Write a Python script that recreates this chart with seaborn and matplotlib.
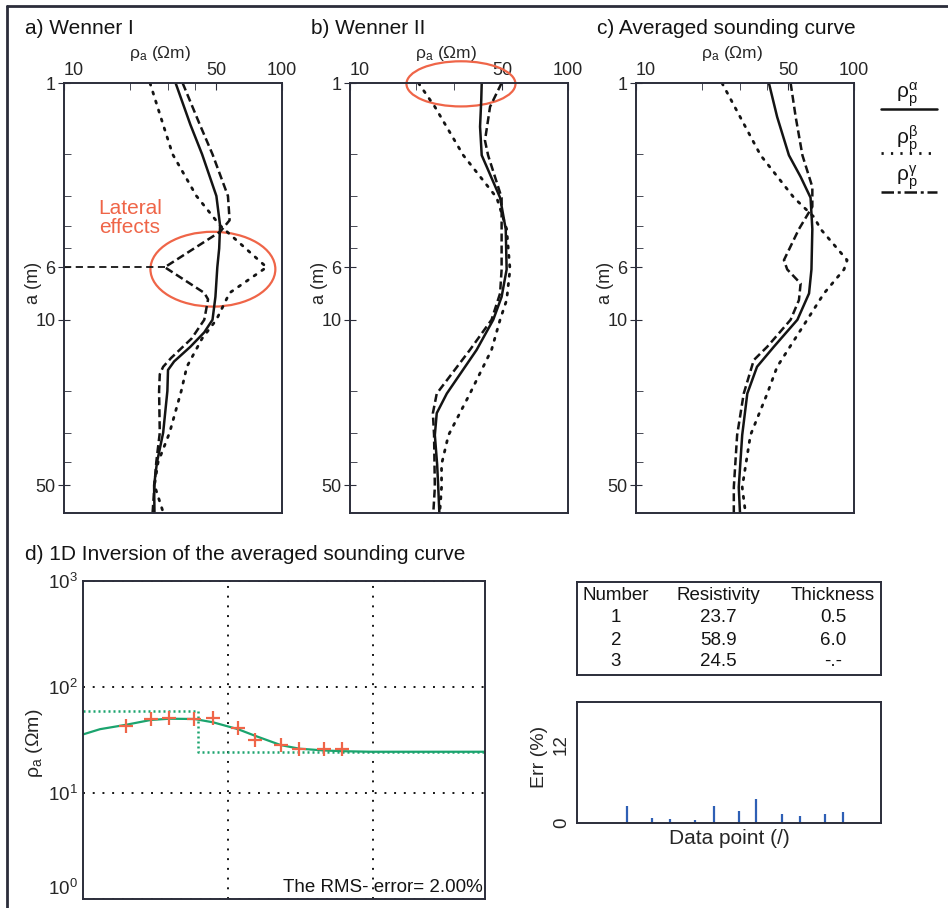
import seaborn as sns
import matplotlib.pyplot as plt
from matplotlib.patches import Ellipse
from matplotlib.lines import Line2D
from matplotlib.ticker import FixedLocator, NullFormatter, NullLocator

# electrode spacing a (m) and apparent resistivity (Ohm m)
# a) Wenner I
a_alpha_1 = [1, 1.5, 2, 3, 4, 5, 6, 8, 10, 11.3, 13, 15, 16.3, 20, 30, 40, 50, 65]
rho_alpha_1 = [32.5, 38, 43, 50, 52, 51.5, 50.5, 49.5, 48, 44, 38, 32, 30, 29.8, 28.5, 26.7, 25.9, 26]
a_beta_1 = [1, 1.5, 2, 3, 4, 6, 7.7, 10, 12, 15.8, 20, 30, 40, 50, 65]
rho_beta_1 = [24.8, 28.5, 31.5, 40.5, 52, 85, 57.5, 50, 43, 36.6, 34.5, 30.5, 27, 26, 28.5]
a_gamma_1 = [1, 1.5, 2, 3, 3.8, 4.25, 6, 7.7, 8.2, 10, 12, 14.5, 15.8, 17, 20, 30, 40, 50, 65]
rho_gamma_1 = [35, 42, 48, 56.5, 57.5, 52, 29, 44, 45.8, 44, 38.5, 31, 28.5, 27.5, 27.3, 27.5, 26.5, 26, 25.5]
lateral_rho = [10, 29]
lateral_a = [6, 6]

# b) Wenner II
a_alpha_2 = [1, 1.18, 1.53, 2.02, 2.26, 3.05, 4.14, 6.13, 8.0, 10, 13.4, 20.5, 24.8, 30.7, 40.8, 51, 65.6]
rho_alpha_2 = [40.2, 40, 39.5, 40.2, 42.4, 48.8, 51.8, 52.3, 49.6, 45.4, 38.1, 27.8, 25, 24.5, 25.1, 25.4, 25.7]
a_beta_2 = [1, 1.26, 2.02, 3.05, 4.14, 6.13, 8.26, 10, 13.4, 20.5, 30.7, 40.8, 51, 65.6]
rho_beta_2 = [20.6, 24.5, 33.1, 47.1, 52.3, 54.2, 52.3, 48.8, 44.6, 35.5, 28.3, 26.3, 26.3, 25.8]
a_gamma_2 = [1, 1.26, 1.75, 2.02, 3.05, 4.14, 6.13, 7.74, 10, 13.4, 20.5, 24.8, 30.7, 51, 65.6]
rho_gamma_2 = [49.6, 43.9, 41.6, 43, 49.6, 49.6, 49.6, 48.8, 44.6, 35.5, 25, 24, 24.3, 24.5, 24.1]

# c) averaged sounding curve
a_alpha_3 = [1, 1.39, 2.02, 2.49, 3.05, 4.14, 6.13, 7.74, 10, 13, 15.8, 20.5, 30.7, 51, 65.6]
rho_alpha_3 = [40.7, 44.4, 50.3, 56.9, 63.2, 64.4, 63.8, 62.2, 55, 42.9, 35.9, 32.4, 30.7, 29.6, 30]
a_beta_3 = [1, 2.02, 3.05, 3.68, 4.14, 5.6, 6.13, 7.74, 10, 15.8, 20.5, 30.7, 51, 65.6]
rho_beta_3 = [24.8, 37.3, 53, 65.5, 70.3, 93, 90, 72.8, 61, 44.4, 40, 33.5, 30.7, 31.8]
a_gamma_3 = [1, 1.39, 2.02, 2.75, 3.33, 4.14, 5.6, 6.13, 7.03, 8.26, 10, 13, 14.8, 20.5, 30.7, 51, 65.6]
rho_gamma_3 = [51.2, 54, 58, 64.4, 64.4, 55.9, 47.7, 49.4, 56.9, 55.9, 51.2, 40, 34.7, 31.2, 29.1, 28.1, 28.1]

# d) 1D inversion
obs_x = [0.198, 0.294, 0.394, 0.586, 0.784, 1.17, 1.54, 2.31, 3.09, 4.57, 6.08]
obs_rho = [42.6, 50.2, 51.5, 49.5, 50.8, 41.3, 31.4, 28.3, 26.2, 25.9, 26.0]
fit_x = [0.1, 0.131, 0.198, 0.294, 0.394, 0.586, 0.79, 1.17, 1.54, 2.31, 3.09, 4.57, 6.08, 9.64, 59]
fit_rho = [35.7, 40, 44, 48.9, 50.2, 49.9, 46.4, 40, 34.6, 28.3, 26.2, 25.2, 24.8, 24.5, 24.5]
model_x = [0.1, 0.62, 0.62, 59]
model_rho = [58.9, 58.9, 24.5, 24.5]
err_pct = [2.56, 0.72, 0.67, 0.51, 2.67, 1.85, 3.74, 1.44, 1.03, 1.33, 1.74]

layer_num = ['1', '2', '3']
layer_res = ['23.7', '58.9', '24.5']
layer_thk = ['0.5', '6.0', '-.-']

ink = '#141414'
frame = '#2b2d3a'
red = '#EF6548'
green = '#1BA46E'
blue = '#2E5FB5'

sns.set_style('white')
plt.rcParams['font.family'] = ['Liberation Sans', 'DejaVu Sans']
plt.rcParams['mathtext.fontset'] = 'custom'
plt.rcParams['mathtext.rm'] = 'Liberation Sans'
plt.rcParams['mathtext.it'] = 'Liberation Sans:italic'
plt.rcParams['axes.edgecolor'] = frame
plt.rcParams['axes.linewidth'] = 1.4

fig = plt.figure(figsize=(9.48, 9.08), dpi=100)
W, H = 948, 908


def px_axes(x0, y0, x1, y1):
    return fig.add_axes([x0 / W, 1 - y1 / H, (x1 - x0) / W, (y1 - y0) / H])


solid = dict(color=ink, lw=1.8, linestyle='-')
dotted = dict(color=ink, lw=2.0, linestyle=(0, (0.8, 2.6)), dash_capstyle='round')
dashed = dict(color=ink, lw=1.8, linestyle=(0, (3.2, 1.6)))

panels = [
    (64, 'a) Wenner I', (a_alpha_1, rho_alpha_1), (a_beta_1, rho_beta_1), (a_gamma_1, rho_gamma_1)),
    (350, 'b) Wenner II', (a_alpha_2, rho_alpha_2), (a_beta_2, rho_beta_2), (a_gamma_2, rho_gamma_2)),
    (636, 'c) Averaged sounding curve', (a_alpha_3, rho_alpha_3), (a_beta_3, rho_beta_3), (a_gamma_3, rho_gamma_3)),
]
sound_axes = []
for left, title, alpha, beta, gamma in panels:
    ax = px_axes(left, 83, left + 218, 513)
    for (a_vals, rho_vals), style in [(beta, dotted), (gamma, dashed), (alpha, solid)]:
        sns.lineplot(x=rho_vals, y=a_vals, orient='y', estimator=None, ax=ax, **style)
    ax.set_xscale('log')
    ax.set_yscale('log')
    ax.set_xlim(10, 100)
    ax.set_ylim(65.5, 1)
    ax.xaxis.set_major_locator(FixedLocator([10, 50, 100]))
    ax.xaxis.set_minor_locator(FixedLocator([20, 30, 40]))
    ax.set_xticklabels(['10', '50', '100'])
    ax.xaxis.set_minor_formatter(NullFormatter())
    ax.yaxis.set_major_locator(FixedLocator([1, 6, 10, 50]))
    ax.yaxis.set_minor_locator(FixedLocator([2, 3, 4, 5, 20, 30, 40]))
    ax.set_yticklabels(['1', '6', '10', '50'])
    ax.yaxis.set_minor_formatter(NullFormatter())
    ax.tick_params(axis='x', which='both', direction='in', top=True, bottom=False,
                   labeltop=True, labelbottom=False, labelsize=13, pad=3, color=frame)
    ax.tick_params(axis='x', which='major', length=5)
    ax.tick_params(axis='x', which='minor', length=5)
    ax.tick_params(axis='y', which='major', direction='inout', length=8, left=True,
                   labelsize=13, pad=2, color=frame)
    ax.tick_params(axis='y', which='minor', direction='in', length=5, left=True, color=frame)
    ax.get_xticklabels()[0].set_horizontalalignment('left')
    ax.xaxis.set_label_position('top')
    ax.set_xlabel('ρ$_\\mathrm{a}$ (Ωm)', fontsize=12.5, labelpad=5)
    ax.xaxis.set_label_coords(0.44, 1.058)
    ax.set_ylabel('a (m)', fontsize=13)
    ax.yaxis.set_label_coords(-0.10, 0.535)
    fig.text((left - 39) / W, 1 - 28 / H, title, fontsize=15, va='center', color=ink)
    sound_axes.append(ax)

# lateral effects in Wenner I
ax_a, ax_b, ax_c = sound_axes
sns.lineplot(x=lateral_rho, y=lateral_a, estimator=None, ax=ax_a, color=ink, lw=1.3,
             linestyle=(0, (4, 2.5)))
ax_a.add_patch(Ellipse((0.683, 0.567), 0.573, 0.174, transform=ax_a.transAxes,
                       fill=False, edgecolor=red, lw=1.6))
ax_a.text(0.303, 0.686, 'Lateral\neffects', transform=ax_a.transAxes, color=red,
          fontsize=15, ha='center', va='center', linespacing=1.0)
ax_b.add_patch(Ellipse((0.509, 0.998), 0.5, 0.105, transform=ax_b.transAxes,
                       fill=False, edgecolor=red, lw=1.6, clip_on=False))

# legend keys
legend_rows = [('α', 109, solid), ('β', 153, dotted), ('γ', 192, dashed)]
for sup, y, style in legend_rows:
    fig.text(907 / W, 1 - (y - 14) / H, 'ρ$_\\mathrm{p}^{\\mathrm{%s}}$' % sup, fontsize=15,
             ha='center', va='center', color=ink)
    ls = style['linestyle'] if sup != 'γ' else (0, (5, 1.5, 1.2, 1.5))
    fig.add_artist(Line2D([881 / W, 937 / W], [1 - y / H] * 2, color=ink,
                          lw=style['lw'], linestyle=ls, transform=fig.transFigure))

# d) inversion
ax_d = px_axes(83, 581, 485, 899)
sns.lineplot(x=model_x, y=model_rho, sort=False, estimator=None, ax=ax_d, color=green,
             lw=1.8, linestyle=(0, (0.8, 1.2)))
sns.lineplot(x=fit_x, y=fit_rho, estimator=None, ax=ax_d, color=green, lw=1.6)
sns.scatterplot(x=obs_x, y=obs_rho, ax=ax_d, marker='+', s=90, color=red, linewidth=1.6, zorder=5)
ax_d.set_xscale('log')
ax_d.set_yscale('log')
ax_d.set_xlim(0.1, 59)
ax_d.set_ylim(1, 1000)
ax_d.xaxis.set_major_locator(FixedLocator([1, 10]))
ax_d.xaxis.set_major_formatter(NullFormatter())
ax_d.xaxis.set_minor_locator(NullLocator())
ax_d.yaxis.set_major_locator(FixedLocator([1, 10, 100, 1000]))
ax_d.yaxis.set_minor_locator(NullLocator())
ax_d.grid(True, which='major', color=ink, linestyle=(0, (1, 4)), lw=1.4)
ax_d.tick_params(length=0, labelsize=13.5, pad=4)
ax_d.get_yticklabels()[0].set_verticalalignment('bottom')
ax_d.set_ylabel('ρ$_\\mathrm{a}$ (Ωm)', fontsize=14)
ax_d.yaxis.set_label_coords(-0.095, 0.49)
ax_d.text(0.995, 0.035, 'The RMS- error= 2.00%', transform=ax_d.transAxes, fontsize=13.5,
          ha='right', va='center', color=ink)
fig.text(25 / W, 1 - 555 / H, 'd) 1D Inversion of the averaged sounding curve', fontsize=15,
         va='center', color=ink)

# model table
ax_t = px_axes(577, 582, 881, 675)
ax_t.set_xticks([])
ax_t.set_yticks([])
col_x = [0.128, 0.464, 0.842]
row_y = [0.85, 0.613, 0.376, 0.14]
for cx, head in zip(col_x, ['Number', 'Resistivity', 'Thickness']):
    ax_t.text(cx, row_y[0], head, transform=ax_t.transAxes, ha='center', va='center',
              fontsize=13.5, color=ink)
for ry, n, r, t in zip(row_y[1:], layer_num, layer_res, layer_thk):
    for cx, s in zip(col_x, [n, r, t]):
        ax_t.text(cx, ry, s, transform=ax_t.transAxes, ha='center', va='center',
                  fontsize=13.5, color=ink)

# error stems
ax_e = px_axes(577, 702, 881, 823)
ax_e.vlines(obs_x, 0, err_pct, color=blue, lw=1.6)
ax_e.set_xscale('log')
ax_e.set_xlim(0.0895, 11.2)
ax_e.set_ylim(0, 18.6)
ax_e.xaxis.set_major_locator(NullLocator())
ax_e.xaxis.set_minor_locator(NullLocator())
ax_e.set_yticks([0, 12])
ax_e.set_yticklabels(['0', '12'], rotation=90, va='center')
ax_e.tick_params(length=0, labelsize=13.5, pad=5)
ax_e.set_ylabel('Err (%)', fontsize=14)
ax_e.yaxis.set_label_coords(-0.095, 0.55)
ax_e.set_xlabel('Data point (/)', fontsize=15, labelpad=4)

# outer frame (top and left edges)
fig.add_artist(Line2D([7 / W, 1], [1 - 6 / H] * 2, color=frame, lw=2, transform=fig.transFigure))
fig.add_artist(Line2D([7 / W] * 2, [0, 1 - 6 / H], color=frame, lw=2, transform=fig.transFigure))

fig.savefig('out.png', dpi=100)
